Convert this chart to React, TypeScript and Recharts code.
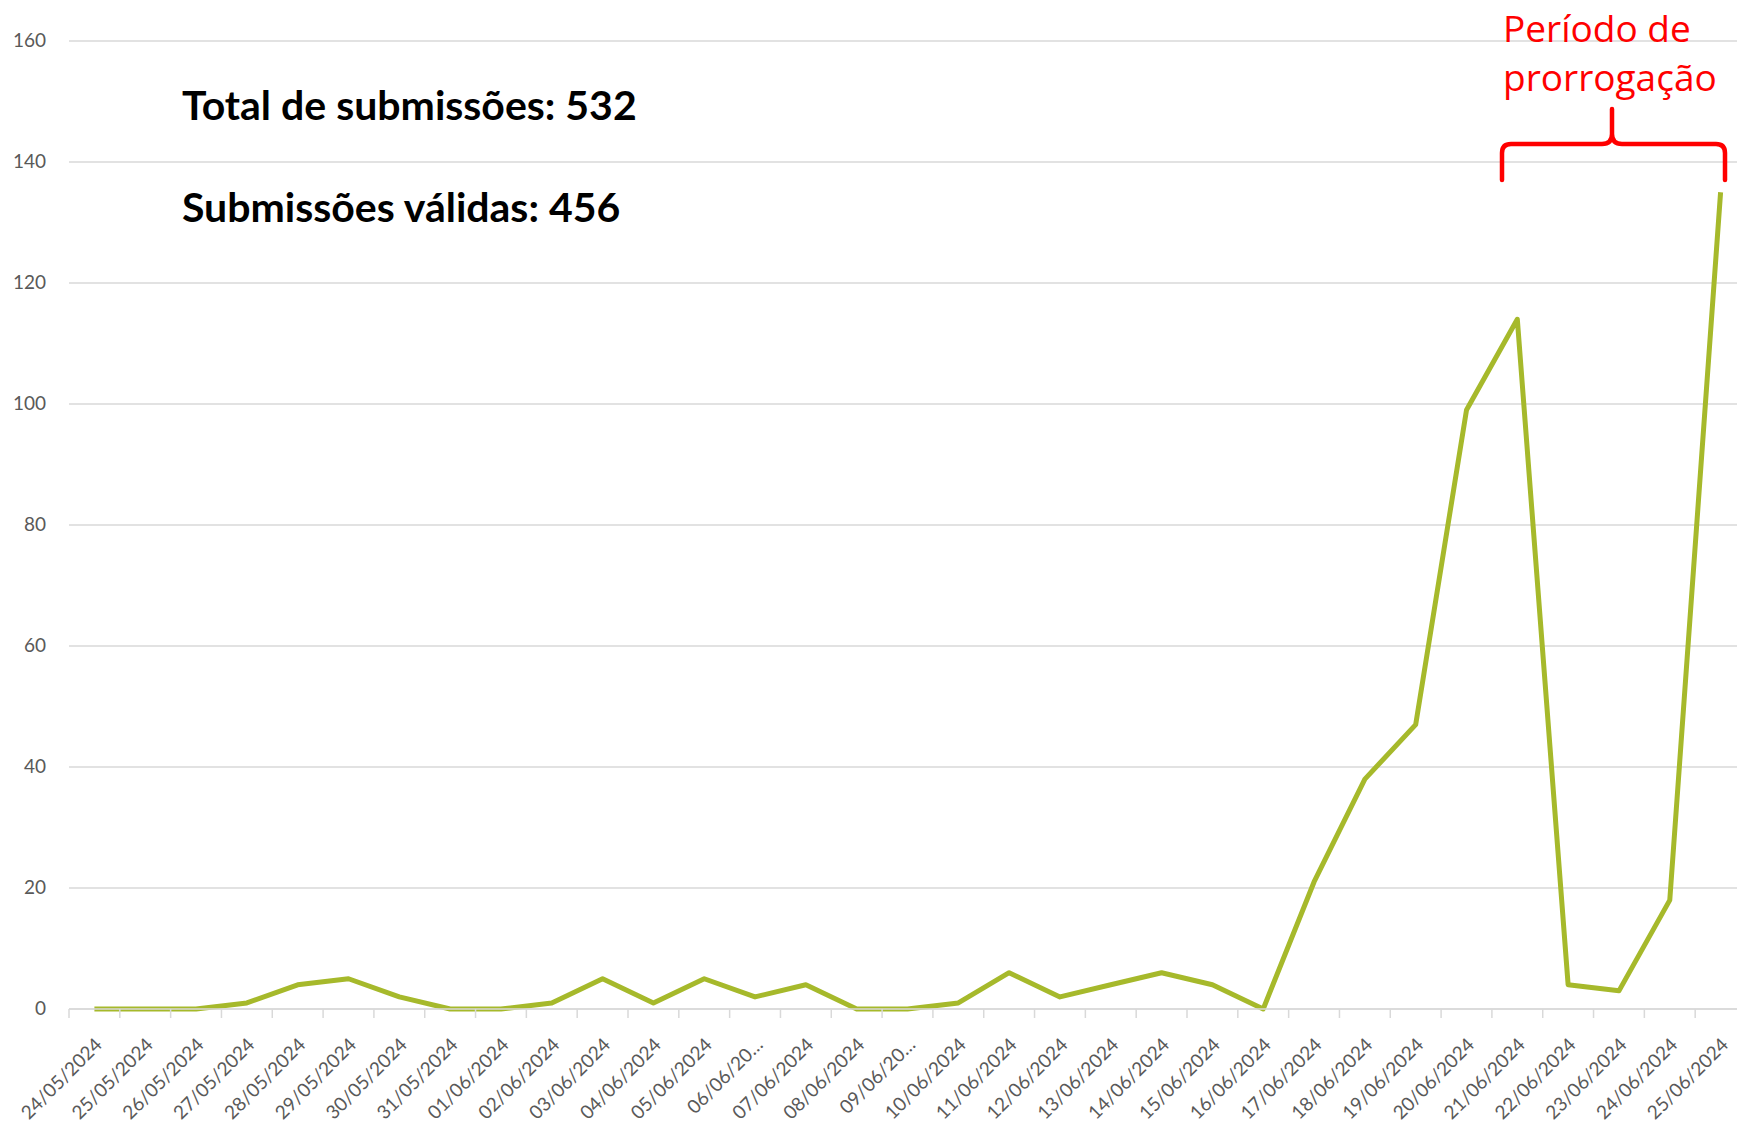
import React from "react";
import { LineChart, Line, XAxis, YAxis, CartesianGrid } from "recharts";

// daily submissions, 24/05/2024 .. 25/06/2024
const dates = [
  "24/05/2024", "25/05/2024", "26/05/2024", "27/05/2024", "28/05/2024",
  "29/05/2024", "30/05/2024", "31/05/2024", "01/06/2024", "02/06/2024",
  "03/06/2024", "04/06/2024", "05/06/2024", "06/06/2024", "07/06/2024",
  "08/06/2024", "09/06/2024", "10/06/2024", "11/06/2024", "12/06/2024",
  "13/06/2024", "14/06/2024", "15/06/2024", "16/06/2024", "17/06/2024",
  "18/06/2024", "19/06/2024", "20/06/2024", "21/06/2024", "22/06/2024",
  "23/06/2024", "24/06/2024", "25/06/2024",
];

const submissions = [
  0, 0, 0, 1, 4, 5, 2, 0, 0, 1, 5, 1, 5, 2, 4, 0, 0, 1, 6, 2, 4, 6, 4, 0,
  21, 38, 47, 99, 114, 4, 3, 18, 135,
];

// Excel cut these two labels short
const truncatedLabels = ["06/06/2024", "09/06/2024"];

const yTicks = [0, 20, 40, 60, 80, 100, 120, 140, 160];

const totalSubmissions = 532;
const validSubmissions = 456;

const data = dates.map((d, i) => ({ date: d, value: submissions[i] }));

// layout
const VIEW_W = 1737;
const VIEW_H = 1122;
const PLOT_LEFT = 69;
const PLOT_TOP = 41;
const X_AXIS_H = 113;
const CHART_W = 1746;
const BAND = (CHART_W - PLOT_LEFT) / dates.length;

const GRID = "#d9d9d9";
const LABEL = "#595959";
const AXIS_FONT = "Lato, 'Noto Sans', sans-serif";

const XTick = (props: any) => {
  const { x, y, payload, index } = props;
  const label = truncatedLabels.includes(payload.value)
    ? payload.value.slice(0, 8) + "…"
    : payload.value;
  const tx = x + 9;
  const ty = y + 37;
  return (
    <g>
      <line x1={x - BAND / 2} x2={x - BAND / 2} y1={y} y2={y + 9} stroke={GRID} strokeWidth={1.5} />
      {index === dates.length - 1 && (
        <line x1={x + BAND / 2} x2={x + BAND / 2} y1={y} y2={y + 9} stroke={GRID} strokeWidth={1.5} />
      )}
      <text
        x={tx}
        y={ty}
        textAnchor="end"
        transform={`rotate(-45, ${tx}, ${ty})`}
        fill={LABEL}
        fontSize={19}
        fontFamily={AXIS_FONT}
      >
        {label}
      </text>
    </g>
  );
};

const YTick = (props: any) => {
  const { y, payload } = props;
  return (
    <text x={46} y={y + 6} textAnchor="end" fill={LABEL} fontSize={19} fontFamily={AXIS_FONT}>
      {payload.value}
    </text>
  );
};

export default function App() {
  return (
    <div
      style={{
        position: "fixed",
        left: 0,
        top: 0,
        width: VIEW_W,
        height: VIEW_H,
        overflow: "hidden",
        background: "#fff",
      }}
    >
      <LineChart
        width={CHART_W}
        height={VIEW_H}
        data={data}
        margin={{ top: PLOT_TOP, right: 0, bottom: 0, left: 0 }}
      >
        <CartesianGrid vertical={false} stroke={GRID} strokeWidth={1.5} />
        <XAxis
          dataKey="date"
          height={X_AXIS_H}
          interval={0}
          padding={{ left: BAND / 2, right: BAND / 2 }}
          axisLine={{ stroke: GRID, strokeWidth: 1.5 }}
          tickLine={false}
          tickSize={0}
          tickMargin={0}
          tick={<XTick />}
        />
        <YAxis
          width={PLOT_LEFT}
          domain={[0, 160]}
          ticks={yTicks}
          axisLine={false}
          tickLine={false}
          tick={<YTick />}
        />
        <Line
          type="linear"
          dataKey="value"
          stroke="#a6b92b"
          strokeWidth={5}
          strokeLinejoin="round"
          dot={false}
          activeDot={false}
          isAnimationActive={false}
        />
      </LineChart>
      <svg
        width={VIEW_W}
        height={VIEW_H}
        style={{ position: "absolute", left: 0, top: 0, pointerEvents: "none" }}
      >
        <g fontFamily="Lato, sans-serif" fontWeight={700} fontSize={41} fill="#000">
          <text x={182} y={120}>{`Total de submissões: ${totalSubmissions}`}</text>
          <text x={182} y={222}>{`Submissões válidas: ${validSubmissions}`}</text>
        </g>
        <g fontFamily="'Open Sans', sans-serif" fontSize={37} fill="#ff0000">
          <text x={1503} y={42}>Período de</text>
          <text x={1503} y={91}>prorrogação</text>
        </g>
        <path
          d="M 1502 180 L 1502 153 Q 1502 144 1511 144 L 1602 144 Q 1612 144 1612 134 L 1612 109 M 1612 134 Q 1612 144 1622 144 L 1716 144 Q 1725 144 1725 153 L 1725 180"
          fill="none"
          stroke="#ff0000"
          strokeWidth={4.5}
          strokeLinecap="round"
          strokeLinejoin="round"
        />
      </svg>
    </div>
  );
}
